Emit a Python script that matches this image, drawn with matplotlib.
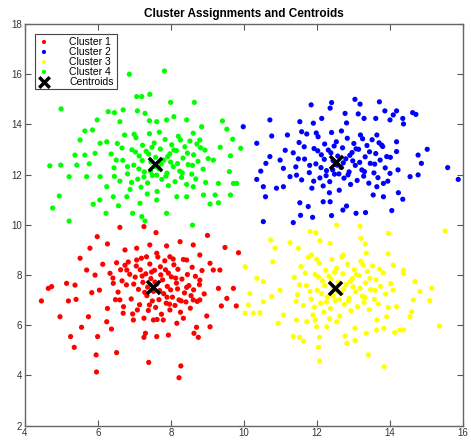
import numpy as np
import matplotlib
matplotlib.use("Agg")
import matplotlib.pyplot as plt

plt.rcParams["font.family"] = ["Liberation Sans", "DejaVu Sans"]

# points, grouped by cluster
cluster1 = [
    (6.60, 9.90), (7.26, 9.93), (7.59, 9.69), (5.98, 9.53), (9.00, 9.58), (6.26, 9.24), (5.78, 9.07),
    (5.51, 8.67), (9.48, 9.10), (9.85, 8.89), (6.13, 8.43), (5.14, 7.67), (4.73, 7.54), (4.64, 7.47),
    (4.45, 6.97), (5.19, 6.97), (4.96, 6.34), (5.55, 5.92), (5.74, 6.34), (5.25, 5.55), (5.35, 5.12),
    (5.99, 5.55), (5.95, 4.82), (6.51, 4.91), (5.96, 4.14), (7.39, 4.52), (8.27, 4.38), (8.22, 3.91),
    (9.30, 7.47), (9.71, 7.47), (9.53, 7.07), (9.38, 6.77), (9.79, 6.77), (8.98, 6.37), (9.07, 5.94),
    (8.70, 5.92), (8.75, 5.52), (8.63, 5.68), (7.93, 5.61), (7.26, 5.52), (7.61, 5.55), (7.30, 5.68),
    (6.37, 5.85), (6.24, 6.14), (6.26, 6.67), (6.04, 7.40), (5.83, 7.30), (5.37, 7.60), (5.40, 7.03),
    (5.69, 8.20), (5.92, 8.00), (6.51, 8.49), (6.74, 9.00), (7.06, 9.07), (7.42, 9.20), (7.88, 9.16),
    (8.25, 9.33), (8.61, 9.20), (8.79, 8.80), (9.07, 8.47), (9.34, 8.20), (9.16, 8.20), (8.79, 7.80),
    (8.61, 7.01), (8.79, 7.01), (8.34, 6.28), (8.16, 6.08), (7.79, 6.21), (7.52, 6.21), (6.97, 6.21),
    (6.69, 6.48), (6.60, 7.01), (6.42, 7.67), (6.33, 8.07), (6.79, 8.20), (7.06, 8.60), (7.33, 8.73),
    (7.61, 8.87), (7.97, 8.73), (8.43, 8.60),
    (6.41, 7.88), (6.55, 7.32), (6.62, 8.21), (6.70, 6.74), (6.78, 7.61), (6.83, 8.52), (6.91, 7.05),
    (6.95, 6.45), (7.02, 7.92), (7.05, 8.36), (7.11, 7.43), (7.14, 6.82), (7.19, 8.67), (7.23, 7.71),
    (7.26, 6.28), (7.31, 8.05), (7.34, 7.18), (7.38, 6.59), (7.42, 8.44), (7.45, 7.86), (7.49, 6.97),
    (7.52, 7.35), (7.55, 8.19), (7.58, 6.71), (7.61, 7.64), (7.64, 8.72), (7.67, 7.02), (7.71, 8.33),
    (7.74, 6.44), (7.77, 7.81), (7.80, 7.26), (7.83, 8.57), (7.87, 6.88), (7.90, 7.55), (7.93, 8.08),
    (7.97, 6.61), (8.01, 7.93), (8.04, 7.12), (8.08, 8.41), (8.11, 6.79), (8.15, 7.68), (8.19, 8.23),
    (8.22, 7.01), (8.26, 6.52), (8.30, 7.84), (8.34, 8.62), (8.37, 7.29), (8.41, 6.93), (8.45, 8.02),
    (8.49, 7.58), (8.53, 6.68), (8.58, 8.31), (8.62, 7.41), (8.67, 7.95), (8.72, 6.95), (8.78, 7.62),
    (8.85, 8.18), (8.91, 7.25), (6.48, 7.02), (6.66, 7.77), (6.87, 8.03), (7.08, 6.61), (7.21, 7.96),
    (7.36, 7.52), (7.47, 8.12), (7.62, 6.23), (7.69, 7.38), (7.85, 8.21), (7.99, 7.41), (8.13, 7.88),
    (8.28, 6.97), (8.43, 7.51), (7.28, 7.31), (7.56, 7.72), (7.72, 8.01), (7.96, 6.84), (8.18, 7.45),
    (7.41, 6.81), (6.98, 7.64), (7.16, 8.21), (7.89, 7.12), (8.06, 8.64), (6.74, 8.39), (8.55, 7.18),
]

cluster2 = [
    (13.04, 15.00), (12.40, 14.87), (12.36, 14.65), (13.18, 14.81), (13.71, 14.90), (11.84, 14.78),
    (13.86, 14.54), (14.18, 14.54), (14.09, 14.38), (14.62, 14.47), (14.71, 14.40), (12.77, 14.44),
    (13.13, 14.42), (10.71, 14.18), (12.81, 14.06), (13.29, 14.24), (13.61, 14.24), (14.35, 14.24),
    (14.37, 14.02), (14.00, 14.18), (9.98, 13.91), (11.53, 14.11), (11.90, 14.05), (12.13, 14.24),
    (10.76, 13.54), (10.35, 13.25), (14.18, 13.31), (15.02, 13.01), (14.77, 12.78), (14.86, 12.45),
    (15.58, 12.28), (15.87, 11.81), (14.55, 11.92), (14.77, 11.99), (14.23, 11.28), (14.35, 11.02),
    (14.05, 10.57), (10.35, 11.81), (10.53, 11.52), (10.59, 11.12), (10.89, 11.46), (10.46, 12.14),
    (10.60, 12.45), (10.71, 12.72), (10.53, 10.13), (11.35, 10.09), (11.55, 10.38), (11.88, 10.30),
    (12.40, 10.37), (12.71, 10.59), (13.07, 10.46), (13.33, 10.49), (11.53, 10.88), (11.76, 10.73),
    (12.17, 10.92), (12.36, 10.92), (12.81, 10.75), (13.54, 11.19), (13.82, 11.12), (13.64, 11.52),
    (11.08, 11.52), (11.26, 11.92), (11.08, 12.25), (11.13, 12.97), (10.99, 12.58), (11.19, 13.58),
    (11.58, 13.71), (13.64, 13.58), (13.77, 13.18), (13.91, 12.72), (14.18, 12.92), (14.22, 12.19),
    (14.00, 12.05), (13.82, 11.65),
    (11.35, 12.87), (11.42, 12.31), (11.51, 13.28), (11.58, 11.79), (11.66, 12.62), (11.72, 13.62),
    (11.79, 12.08), (11.86, 11.46), (11.92, 13.04), (11.97, 12.43), (12.03, 13.51), (12.08, 11.87),
    (12.12, 12.79), (12.17, 11.55), (12.21, 13.22), (12.26, 12.16), (12.31, 12.98), (12.35, 11.72),
    (12.40, 13.68), (12.44, 12.56), (12.48, 12.02), (12.53, 13.31), (12.57, 12.74), (12.61, 11.38),
    (12.66, 12.29), (12.70, 13.07), (12.74, 11.86), (12.79, 12.63), (12.83, 13.45), (12.88, 12.11),
    (12.92, 11.61), (12.96, 12.88), (13.01, 13.24), (13.05, 12.37), (13.10, 11.77), (13.14, 13.01),
    (13.19, 13.58), (13.23, 12.19), (13.28, 11.94), (13.32, 12.71), (13.37, 13.16), (13.42, 11.66),
    (13.46, 12.45), (13.51, 13.39), (13.56, 12.07), (13.61, 12.84), (13.67, 11.88), (13.73, 12.58),
    (13.80, 13.12), (13.87, 12.27), (13.94, 11.74), (14.01, 12.69), (11.49, 12.63), (11.65, 13.11),
    (11.80, 12.37), (11.91, 11.74), (12.02, 12.95), (12.11, 12.28), (12.25, 11.96), (12.38, 12.87),
    (12.47, 13.14), (12.60, 12.03), (12.72, 12.47), (12.85, 11.99), (12.98, 12.55), (13.07, 13.03),
    (13.17, 12.49), (13.30, 12.12), (13.44, 12.91), (13.58, 12.42), (12.20, 12.61), (12.55, 12.38),
    (12.90, 12.77), (12.34, 11.28), (13.25, 13.43), (11.98, 13.66), (12.67, 13.74), (11.44, 11.98),
    (13.70, 13.27), (12.43, 12.19),
]

cluster3 = [
    (12.54, 9.99), (13.18, 9.95), (11.81, 9.73), (11.97, 9.69), (13.96, 9.66), (15.51, 9.76),
    (10.73, 9.40), (11.26, 9.29), (12.08, 9.37), (12.36, 9.26), (13.20, 9.46), (13.32, 9.24),
    (10.85, 9.07), (11.49, 9.07), (11.85, 8.80), (12.72, 8.80), (13.35, 8.87), (13.95, 8.84),
    (10.79, 8.53), (10.03, 8.33), (10.35, 7.87), (10.53, 7.74), (14.09, 8.40), (14.37, 8.20),
    (14.37, 8.07), (14.68, 7.74), (15.14, 7.47), (14.82, 7.34), (14.09, 7.40), (14.64, 7.01),
    (15.09, 6.98), (10.16, 7.27), (10.12, 6.81), (10.03, 6.48), (10.26, 6.48), (10.44, 6.50),
    (10.53, 6.94), (10.76, 7.14), (10.99, 7.40), (10.94, 6.08), (11.08, 6.41), (11.44, 6.21),
    (11.72, 6.14), (11.35, 5.55), (11.52, 5.52), (11.63, 5.37), (12.07, 5.52), (12.04, 5.12),
    (12.07, 4.58), (12.77, 5.57), (12.82, 5.28), (13.04, 5.39), (13.41, 4.82), (13.84, 4.35),
    (13.35, 5.68), (13.63, 5.81), (13.83, 5.88), (14.13, 5.71), (14.27, 5.81), (14.37, 5.81),
    (14.55, 6.34), (14.59, 6.54), (15.35, 5.97), (14.18, 6.74), (13.91, 6.34), (13.64, 6.21),
    (13.04, 5.88), (12.54, 6.14), (12.27, 5.94), (11.99, 5.94), (11.95, 6.21),
    (11.38, 7.91), (11.47, 7.22), (11.56, 8.34), (11.63, 6.79), (11.71, 7.58), (11.76, 8.71),
    (11.84, 7.04), (11.89, 6.41), (11.95, 8.02), (12.01, 7.39), (12.06, 8.48), (12.10, 6.88),
    (12.15, 7.77), (12.19, 6.52), (12.24, 8.19), (12.28, 7.13), (12.33, 7.95), (12.37, 6.67),
    (12.41, 8.62), (12.45, 7.51), (12.50, 6.99), (12.54, 8.27), (12.58, 7.71), (12.62, 6.36),
    (12.67, 7.28), (12.71, 8.05), (12.75, 6.83), (12.80, 7.62), (12.84, 8.43), (12.88, 7.07),
    (12.93, 6.58), (12.97, 7.86), (13.02, 8.21), (13.06, 7.33), (13.11, 6.74), (13.15, 7.98),
    (13.20, 8.55), (13.24, 7.16), (13.29, 6.91), (13.33, 7.69), (13.38, 8.14), (13.43, 6.62),
    (13.47, 7.42), (13.52, 8.36), (13.57, 7.03), (13.62, 7.81), (13.68, 6.85), (13.74, 7.55),
    (13.81, 8.09), (13.88, 7.24), (13.95, 6.71), (14.02, 7.66), (11.52, 7.61), (11.68, 8.08),
    (11.81, 7.35), (11.93, 6.72), (12.04, 7.92), (12.13, 7.26), (12.26, 6.93), (12.39, 7.84),
    (12.48, 8.11), (12.61, 7.02), (12.73, 7.45), (12.86, 6.97), (12.99, 7.53), (13.08, 8.02),
    (13.18, 7.48), (13.31, 7.11), (13.45, 7.87), (13.59, 7.39), (12.21, 7.58), (12.56, 7.36),
    (12.91, 7.74), (12.35, 6.26), (13.26, 8.41), (11.99, 8.63), (12.68, 8.72), (11.43, 6.95),
    (13.71, 8.24), (12.44, 7.17),
]

cluster4 = [
    (6.86, 16.00), (7.82, 16.13), (7.06, 15.11), (7.20, 15.11), (7.42, 15.20), (4.99, 14.62),
    (6.28, 14.51), (6.45, 14.47), (6.69, 14.58), (7.08, 14.54), (7.29, 14.44), (7.99, 14.88),
    (8.64, 14.88), (5.98, 14.18), (6.60, 14.11), (7.41, 14.15), (7.61, 14.11), (7.88, 14.18),
    (8.08, 14.31), (8.43, 14.18), (8.84, 13.91), (9.41, 14.14), (9.53, 13.81), (5.64, 13.74),
    (5.85, 13.78), (5.51, 13.38), (6.24, 13.31), (9.69, 13.41), (9.35, 13.09), (9.91, 13.05),
    (5.37, 12.78), (5.64, 12.78), (4.68, 12.35), (4.98, 12.38), (5.42, 12.38), (5.76, 12.43),
    (5.21, 11.92), (5.69, 11.92), (4.94, 11.15), (4.76, 10.67), (5.21, 10.15), (5.87, 10.82),
    (6.05, 10.99), (6.22, 10.46), (6.56, 10.76), (6.95, 10.46), (7.20, 10.33), (7.29, 10.15),
    (7.88, 10.46), (8.59, 9.99), (9.07, 10.83), (9.30, 10.88), (8.89, 11.19), (9.21, 11.19),
    (9.63, 11.19), (9.80, 11.65), (9.71, 11.65), (9.60, 12.12), (9.63, 12.75), (9.30, 11.65),
    (9.16, 12.58), (8.93, 12.98), (8.79, 13.38), (8.61, 13.65), (6.42, 11.12), (6.24, 11.52),
    (6.06, 11.92), (5.92, 12.85), (6.06, 13.25), (6.79, 11.12), (7.15, 10.86), (7.61, 10.99),
    (8.16, 11.12), (8.43, 11.12), (8.61, 11.52),
    (6.36, 12.82), (6.44, 12.27), (6.53, 13.24), (6.60, 11.74), (6.68, 12.57), (6.73, 13.58),
    (6.81, 12.03), (6.88, 11.41), (6.93, 12.99), (6.98, 12.38), (7.04, 13.47), (7.09, 11.82),
    (7.13, 12.74), (7.18, 11.50), (7.22, 13.17), (7.27, 12.11), (7.32, 12.93), (7.36, 11.67),
    (7.41, 13.63), (7.45, 12.51), (7.49, 11.97), (7.54, 13.26), (7.58, 12.69), (7.62, 11.33),
    (7.67, 12.24), (7.71, 13.02), (7.75, 11.81), (7.80, 12.58), (7.84, 13.40), (7.89, 12.06),
    (7.93, 11.56), (7.97, 12.83), (8.02, 13.19), (8.06, 12.32), (8.11, 11.72), (8.15, 12.96),
    (8.20, 13.53), (8.24, 12.14), (8.29, 11.89), (8.33, 12.66), (8.38, 13.11), (8.43, 11.61),
    (8.47, 12.40), (8.52, 13.34), (8.57, 12.02), (8.62, 12.79), (8.68, 11.83), (8.74, 12.53),
    (8.81, 13.07), (8.88, 12.22), (8.95, 11.69), (9.02, 12.64), (6.50, 12.58), (6.66, 13.06),
    (6.81, 12.32), (6.92, 11.69), (7.03, 12.90), (7.12, 12.23), (7.26, 11.91), (7.39, 12.82),
    (7.48, 13.09), (7.61, 11.98), (7.73, 12.42), (7.86, 11.94), (7.99, 12.50), (8.08, 12.98),
    (8.18, 12.44), (8.31, 12.07), (8.45, 12.86), (8.59, 12.37), (7.21, 12.56), (7.56, 12.33),
    (7.91, 12.72), (7.35, 11.23), (8.26, 13.38), (6.99, 13.61), (7.68, 13.69), (6.45, 11.93),
    (8.71, 13.22), (7.44, 12.14),
]

centroids = [(7.50, 7.54), (12.52, 12.52), (12.49, 7.47), (7.56, 12.41)]

labels = ["Cluster 1", "Cluster 2", "Cluster 3", "Cluster 4"]
colors = ["#ff0000", "#0000ff", "#ffff00", "#00ff00"]

fig = plt.figure(figsize=(4.71, 4.45), dpi=100)
ax = fig.add_axes([0.053, 0.0434, 0.93, 0.9026])

for pts, lab, col in zip([cluster1, cluster2, cluster3, cluster4], labels, colors):
    xy = np.array(pts)
    ax.scatter(xy[:, 0], xy[:, 1], s=14, c=col, edgecolors="none", label=lab)

cxy = np.array(centroids)
ax.scatter(cxy[:, 0], cxy[:, 1], s=90, marker="x", c="black", linewidths=2.5, label="Centroids")

ax.set_xlim(4, 16)
ax.set_ylim(2, 18)
ax.set_xticks(np.arange(4, 17, 2))
ax.set_yticks(np.arange(2, 19, 2))
ax.tick_params(direction="in", top=True, right=True, labelsize=7, length=4,
               colors="#555555", labelcolor="#333333", pad=2)
for sp in ax.spines.values():
    sp.set_color("#666666")
    sp.set_linewidth(1.0)

ax.set_title("Cluster Assignments and Centroids", fontsize=8.5, fontweight="bold", pad=5)

leg = ax.legend(loc="upper left", bbox_to_anchor=(0.022, 0.975), borderaxespad=0, fontsize=7.5,
                fancybox=False, framealpha=1, edgecolor="#444444", handlelength=1.3,
                handletextpad=1.8, labelspacing=0.0, borderpad=0.25, markerscale=0.8)
leg.get_frame().set_linewidth(0.8)

fig.savefig("out.png", dpi=100)
